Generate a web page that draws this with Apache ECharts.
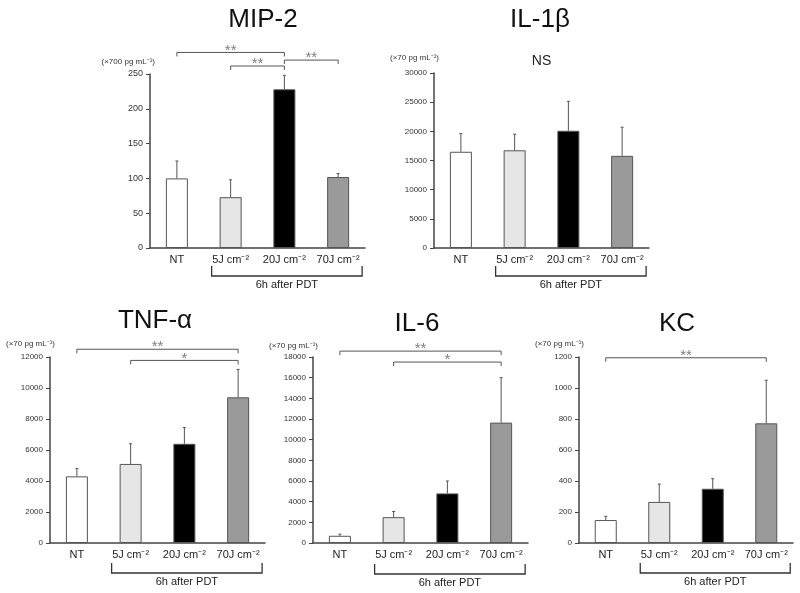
<!DOCTYPE html>
<html>
<head>
<meta charset="utf-8">
<script src="https://cdn.jsdelivr.net/npm/echarts@6/dist/echarts.min.js"></script>
<style>
html,body{margin:0;padding:0;background:#fff;}
#chart{width:800px;height:593px;}
</style>
</head>
<body>
<div id="chart"></div>
<script>
// ---- data ----
const categories = ['NT', '5J cm\u207B\u00B2', '20J cm\u207B\u00B2', '70J cm\u207B\u00B2'];
const pdtLabel = '6h after PDT';

const mip2Mean = [100, 73, 228, 102];
const mip2Err = [25, 25, 20, 5];
const mip2Sig = [[0, 2, 281, '**'], [1, 2, 261.5, '**'], [2, 3, 270, '**']];

const il1bMean = [16500, 16750, 20100, 15800];
const il1bErr = [3100, 2750, 5050, 4900];
const il1bSig = [[1, 2, 32000, 'NS', false]];

const tnfMean = [4300, 5100, 6400, 9400];
const tnfErr = [500, 1300, 1050, 1800];
const tnfSig = [[0, 3, 12500, '**'], [1, 3, 11780, '*']];

const il6Mean = [700, 2500, 4800, 11650];
const il6Err = [150, 550, 1200, 4350];
const il6Sig = [[0, 3, 18570, '**'], [1, 3, 17510, '*']];

const kcMean = [148, 265, 350, 772];
const kcErr = [24, 115, 65, 278];
const kcSig = [[0, 3, 1195, '**']];

const titles = ['MIP-2', 'IL-1\u03B2', 'TNF-\u03B1', 'IL-6', 'KC'];
const units = ['(\u00D7700 pg mL\u207B\u00B9)', '(\u00D770 pg mL\u207B\u00B9)', '(\u00D770 pg mL\u207B\u00B9)', '(\u00D770 pg mL\u207B\u00B9)', '(\u00D770 pg mL\u207B\u00B9)'];
const yMax = [250, 30000, 12000, 18000, 1200];
const yStep = [50, 5000, 2000, 2000, 200];

// ---- styles / layout ----
const barColors = ['#ffffff', '#e6e6e6', '#000000', '#9a9a9a'];
const FONT = 'Liberation Sans, Arial, Helvetica, sans-serif';
const layout = [
  {grid: {left: 150, top: 74, width: 215, height: 174}, tx: 263, ty: 7, gap: 12, pdt: 28, ylab: 9},
  {grid: {left: 434, top: 73, width: 215, height: 175}, tx: 540, ty: 7, gap: 15, pdt: 28, ylab: 8},
  {grid: {left: 50, top: 357, width: 215, height: 186}, tx: 155, ty: 308, gap: 13, pdt: 30, ylab: 8},
  {grid: {left: 313, top: 357, width: 215, height: 186}, tx: 417, ty: 311, gap: 11, pdt: 31, ylab: 8},
  {grid: {left: 579, top: 357, width: 214, height: 186}, tx: 677, ty: 311, gap: 13, pdt: 30, ylab: 8}
];
const means = [mip2Mean, il1bMean, tnfMean, il6Mean, kcMean];
const errs = [mip2Err, il1bErr, tnfErr, il6Err, kcErr];
const sigs = [mip2Sig, il1bSig, tnfSig, il6Sig, kcSig];

const option = {
  animation: false,
  backgroundColor: '#fff',
  textStyle: {fontFamily: FONT},
  title: [], grid: [], xAxis: [], yAxis: [], series: []
};

layout.forEach((L, p) => {
  option.title.push({
    text: titles[p], left: L.tx, top: L.ty, textAlign: 'center', padding: 0,
    textStyle: {fontSize: 26, fontWeight: 'normal', color: '#111', fontFamily: FONT}
  });
  option.grid.push(Object.assign({containLabel: false, outerBoundsMode: 'none'}, L.grid));
  option.xAxis.push({
    type: 'category', gridIndex: p, data: categories, boundaryGap: true,
    axisLine: {lineStyle: {color: '#444', width: 1.5}},
    axisTick: {show: false},
    axisLabel: {fontSize: 11, color: '#222', margin: 6, fontFamily: FONT, interval: 0}
  });
  option.yAxis.push({
    type: 'value', gridIndex: p, min: 0, max: yMax[p], interval: yStep[p],
    name: units[p], nameLocation: 'end', nameGap: L.gap,
    nameTextStyle: {fontSize: 8, color: '#333', align: 'right', verticalAlign: 'middle', padding: [0, -5, 0, 0], fontFamily: FONT},
    splitLine: {show: false},
    axisLine: {show: true, lineStyle: {color: '#444', width: 1.5}},
    axisTick: {show: true, length: 4, lineStyle: {color: '#444', width: 1}},
    axisLabel: {fontSize: L.ylab, color: '#333', margin: 7, fontFamily: FONT, formatter: v => String(v)}
  });
  option.series.push({
    type: 'bar', xAxisIndex: p, yAxisIndex: p, barWidth: 22,
    data: means[p].map((v, i) => ({value: v, itemStyle: {color: barColors[i]}})),
    itemStyle: {borderColor: '#555', borderWidth: 1}
  });
  option.series.push({
    type: 'custom', xAxisIndex: p, yAxisIndex: p, z: 3,
    encode: {x: 0, y: 1},
    data: means[p].map((v, i) => [i, v, errs[p][i]]),
    renderItem: (params, api) => {
      const x = api.value(0), m = api.value(1), e = api.value(2);
      const p0 = api.coord([x, m]), p1 = api.coord([x, m + e]);
      return {type: 'group', children: [
        {type: 'line', shape: {x1: p0[0], y1: p0[1], x2: p1[0], y2: p1[1]}, style: {stroke: '#555', lineWidth: 1}},
        {type: 'line', shape: {x1: p1[0] - 1.5, y1: p1[1], x2: p1[0] + 1.5, y2: p1[1]}, style: {stroke: '#555', lineWidth: 1}}
      ]};
    }
  });
  // significance brackets
  const sig = sigs[p];
  option.series.push({
    type: 'custom', xAxisIndex: p, yAxisIndex: p, clip: false, z: 4,
    encode: {x: 0, y: 2},
    data: sig.map(s => [s[0], s[1], s[2]]),
    renderItem: (params, api) => {
      const s = sig[params.dataIndex];
      const a = api.coord([s[0], s[2]]), b = api.coord([s[1], s[2]]);
      const children = [];
      const drawLine = s[4] !== false;
      if (drawLine) {
        children.push({type: 'polyline', shape: {points: [[a[0], a[1] + 4], [a[0], a[1]], [b[0], b[1]], [b[0], b[1] + 4]]},
          style: {stroke: '#555', lineWidth: 1, fill: null}});
        children.push({type: 'text', style: {text: s[3], x: (a[0] + b[0]) / 2, y: a[1] - 2, align: 'center', verticalAlign: 'middle',
          fontSize: 15, fill: '#808080', fontFamily: FONT}});
      } else {
        children.push({type: 'text', style: {text: s[3], x: (a[0] + b[0]) / 2, y: a[1], align: 'center', verticalAlign: 'middle',
          fontSize: 14, fill: '#222', fontFamily: FONT}});
      }
      return {type: 'group', children};
    }
  });
  // "6h after PDT" bracket under categories 1..3
  option.series.push({
    type: 'custom', xAxisIndex: p, yAxisIndex: p, clip: false, z: 4,
    encode: {x: 0, y: 2},
    data: [[1, 3, 0]],
    renderItem: (params, api) => {
      const a = api.coord([api.value(0), 0]), b = api.coord([api.value(1), 0]);
      const x1 = a[0] - 19, x2 = b[0] + 24, y = a[1] + L.pdt;
      return {type: 'group', children: [
        {type: 'polyline', shape: {points: [[x1, y - 10], [x1, y], [x2, y], [x2, y - 10]]}, style: {stroke: '#333', lineWidth: 1.3, fill: null}},
        {type: 'text', style: {text: pdtLabel, x: (x1 + x2) / 2, y: y + 3, align: 'center', verticalAlign: 'top', fontSize: 11, fill: '#222', fontFamily: FONT}}
      ]};
    }
  });
});

const chart = echarts.init(document.getElementById('chart'), null, {renderer: 'canvas'});
chart.setOption(option);
</script>
</body>
</html>
